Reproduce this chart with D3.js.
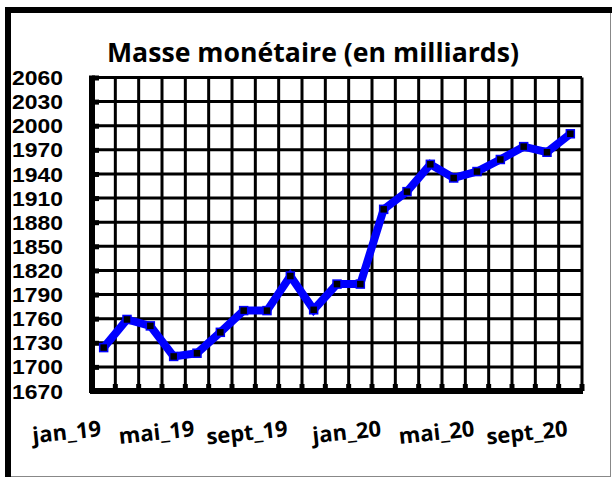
<!DOCTYPE html>
<html>
<head>
<meta charset="utf-8">
<script src="https://cdn.jsdelivr.net/npm/d3@7"></script>
<style>
  body { margin: 0; background: #fff; }
  svg { display: block; }
  text { font-family: "Open Sans", "DejaVu Sans", sans-serif; font-weight: bold; fill: #000; }
  .ylab { font-family: "Liberation Sans", Arial, sans-serif; }
</style>
</head>
<body>
<div class="chart"></div>
<script>
// Données : masse monétaire mensuelle (en milliards)
const months = ['jan_19', 'fev_19', 'mar_19', 'avr_19', 'mai_19', 'juin_19', 'juil_19', 'aout_19',
    'sept_19', 'oct_19', 'nov_19', 'dec_19', 'jan_20', 'fev_20', 'mar_20', 'avr_20',
    'mai_20', 'juin_20', 'juil_20', 'aout_20', 'sept_20']
const values = [1724, 1759, 1751, 1713, 1717, 1743, 1770, 1770, 1813, 1771, 1803, 1803,
    1896, 1918, 1952, 1935, 1943, 1958, 1974, 1967, 1990]
const yTicks = [1670, 1700, 1730, 1760, 1790, 1820, 1850, 1880, 1910, 1940, 1970, 2000, 2030, 2060]
const xLabels = ['jan_19', 'mai_19', 'sept_19', 'jan_20', 'mai_20', 'sept_20']

const width = 612,
    height = 477
const plot = { left: 92, right: 582, top: 77.5, bottom: 391 }

const svg = d3.select('.chart')
    .append('svg')
    .attr('width', width)
    .attr('height', height)

// Cadre : haut et gauche noirs épais, droite et bas gris fins
svg.append('line').attr('x1', 5).attr('x2', 612).attr('y1', 10).attr('y2', 10)
    .attr('stroke', '#000').attr('stroke-width', 6)
svg.append('line').attr('x1', 8).attr('x2', 8).attr('y1', 7).attr('y2', 477)
    .attr('stroke', '#000').attr('stroke-width', 6)
svg.append('line').attr('x1', 610.5).attr('x2', 610.5).attr('y1', 13).attr('y2', 476.5)
    .attr('stroke', '#888').attr('stroke-width', 1)
svg.append('line').attr('x1', 11).attr('x2', 611).attr('y1', 476.5).attr('y2', 476.5)
    .attr('stroke', '#888').attr('stroke-width', 1)

// Titre
svg.append('text')
    .attr('x', 313)
    .attr('y', 62)
    .attr('text-anchor', 'middle')
    .attr('font-size', 27)
    .attr('textLength', 412)
    .attr('lengthAdjust', 'spacingAndGlyphs')
    .text('Masse monétaire (en milliards)')

// Echelles
const x = d3.scaleBand()
    .domain(months)
    .range([plot.left, plot.right])

const y = d3.scaleLinear()
    .domain([1670, 2060])
    .range([plot.bottom, plot.top])

// Grille horizontale
svg.append('g')
    .selectAll('line')
    .data(yTicks.slice(1))
    .join('line')
    .attr('x1', plot.left)
    .attr('x2', plot.right)
    .attr('y1', d => y(d))
    .attr('y2', d => y(d))
    .attr('stroke', '#000')
    .attr('stroke-width', 3)

// Grille verticale (limites des bandes)
const bounds = months.map(m => x(m)).concat([plot.right])
svg.append('g')
    .selectAll('line')
    .data(bounds.slice(1))
    .join('line')
    .attr('x1', d => d)
    .attr('x2', d => d)
    .attr('y1', plot.top)
    .attr('y2', plot.bottom)
    .attr('stroke', '#000')
    .attr('stroke-width', 3)

// Axe Y
const yAxis = svg.append('g')
    .attr('transform', `translate(${plot.left}, 0)`)
    .call(d3.axisLeft(y).tickValues(yTicks).tickSize(-7).tickFormat(''))
yAxis.select('.domain').attr('stroke-width', 6).attr('d', `M0,${plot.top - 2}V${plot.bottom + 2}`)
yAxis.selectAll('.tick line').attr('stroke-width', 5)

svg.append('g')
    .selectAll('text')
    .data(yTicks)
    .join('text')
    .attr('class', 'ylab')
    .attr('x', 12)
    .attr('y', d => y(d))
    .attr('dy', '0.36em')
    .attr('font-size', 21)
    .attr('textLength', 51)
    .attr('lengthAdjust', 'spacingAndGlyphs')
    .text(d => d)

// Axe X : trait épais et petites marques aux limites des bandes
svg.append('line')
    .attr('x1', plot.left - 2)
    .attr('x2', plot.right + 1)
    .attr('y1', plot.bottom)
    .attr('y2', plot.bottom)
    .attr('stroke', '#000')
    .attr('stroke-width', 6)
svg.append('g')
    .selectAll('line')
    .data(bounds)
    .join('line')
    .attr('x1', d => d)
    .attr('x2', d => d)
    .attr('y1', plot.bottom)
    .attr('y2', plot.bottom - 7)
    .attr('stroke', '#000')
    .attr('stroke-width', 5)

// Etiquettes X légèrement inclinées
svg.append('g')
    .selectAll('text')
    .data(xLabels)
    .join('text')
    .attr('transform', d => `translate(${x(d) + x.bandwidth() / 2 - 2}, 436) rotate(-6)`)
    .attr('text-anchor', 'end')
    .attr('font-size', 22)
    .text(d => d)

// Courbe
const line = d3.line()
    .x((d, i) => x(months[i]) + x.bandwidth() / 2)
    .y(d => y(d))

svg.append('path')
    .datum(values)
    .attr('d', line)
    .attr('fill', 'none')
    .attr('stroke', '#0000ff')
    .attr('stroke-width', 8)
    .attr('stroke-linejoin', 'miter')

// Marqueurs carrés
svg.append('g')
    .selectAll('rect')
    .data(values)
    .join('rect')
    .attr('x', (d, i) => x(months[i]) + x.bandwidth() / 2 - 4)
    .attr('y', d => y(d) - 4)
    .attr('width', 8)
    .attr('height', 8)
    .attr('fill', '#000')
    .attr('stroke', '#0000ff')
    .attr('stroke-width', 1.5)
</script>
</body>
</html>
